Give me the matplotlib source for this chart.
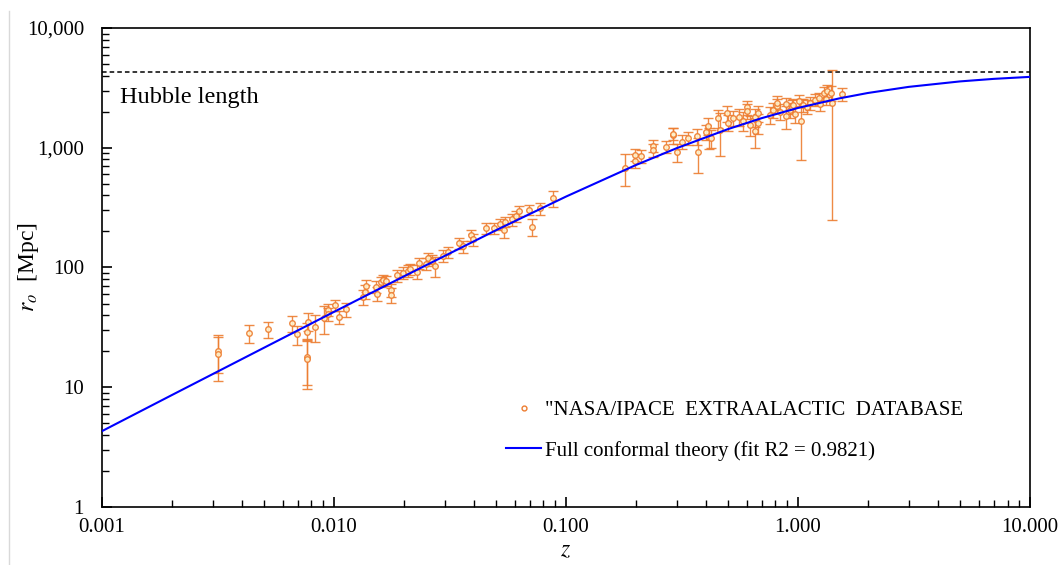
import numpy as np
import matplotlib
matplotlib.use('Agg')
import matplotlib.pyplot as plt
from matplotlib.ticker import FixedLocator, LogLocator, NullFormatter
from matplotlib.lines import Line2D

plt.rcParams['font.family'] = ['Liberation Serif', 'DejaVu Serif']
plt.rcParams['mathtext.fontset'] = 'stix'

# galaxy data: redshift, distance [Mpc], error [Mpc]
z_data = [0.00317, 0.00317, 0.00429, 0.00518, 0.00659, 0.00693, 0.00762, 0.00770,
          0.00762, 0.00762, 0.00830, 0.00906, 0.00945, 0.00945, 0.01013, 0.01054, 0.01127,
          0.0133, 0.0136, 0.01374, 0.01517, 0.0153, 0.0159, 0.0163, 0.01675, 0.0176, 0.0176,
          0.01863, 0.0199, 0.0208, 0.0213, 0.0227, 0.0233, 0.0249, 0.0255, 0.0264, 0.0273,
          0.0294, 0.0311, 0.0347, 0.0360, 0.0388, 0.0398, 0.0452, 0.0489, 0.0520, 0.0541,
          0.0545, 0.0583, 0.0607, 0.0625, 0.0693, 0.0711, 0.0773, 0.0877,
          0.1796, 0.1984, 0.1984, 0.210, 0.2378, 0.2378, 0.270, 0.2884, 0.2884, 0.300,
          0.3153, 0.3366, 0.368, 0.372, 0.4013, 0.4107, 0.413, 0.422, 0.454, 0.46, 0.496,
          0.500, 0.523, 0.559, 0.577, 0.601, 0.601, 0.621, 0.653, 0.653, 0.675, 0.675,
          0.757, 0.783, 0.809, 0.815, 0.836, 0.888, 0.888, 0.924, 0.94, 0.95, 0.971,
          1.013, 1.028, 1.054, 1.089, 1.127, 1.184, 1.236, 1.245, 1.294, 1.321, 1.339,
          1.383, 1.397, 1.543]
r_data = [20.2, 18.8, 28.2, 30.5, 34.2, 27.7, 29.1, 35.3,
          18.0, 17.1, 32.0, 37.6, 44.2, 40.9, 48.3, 38.6, 44.8,
          57.0, 62.8, 70.5, 69.2, 60.1, 76.1, 78.6, 77.5, 64.9, 58.9,
          86.1, 90.6, 94, 97, 92, 109, 107, 119, 114, 103,
          125, 134, 160, 150, 186, 172, 212, 212, 230, 206,
          241, 252, 269, 297, 302, 219, 312, 377,
          681, 869, 780, 853, 1040, 958, 1021, 1271, 1303, 917,
          1124, 1213, 1247, 917, 1362, 1521, 1223, 1200, 1762, 1400, 1940,
          1619, 1762, 1816, 1682, 2177, 2039, 1546, 1388, 1795, 1598, 1940,
          1888, 2066, 2233, 2380, 2001, 1842, 2317, 2066, 2197, 2278, 1916,
          2475, 1675, 2278, 2197, 2351, 2512, 2588, 2317, 2851, 2555, 2987,
          2851, 2351, 2816]
r_err = [7, 7.5, 5, 4.5, 5, 5, 5, 6,
         7.5, 7.5, 8, 10, 5, 5, 5, 5, 6,
         8, 8, 8, 8, 8, 8, 8, 8, 8, 8,
         10, 10, 10, 10, 12, 12, 12, 12, 12, 20,
         14, 15, 18, 18, 20, 20, 22, 22, 25, 30,
         25, 28, 28, 30, 30, 35, 35, 55,
         200, 100, 100, 100, 120, 120, 120, 200, 150, 150,
         150, 150, 200, 300, 200, 250, 250, 200, 300, 550, 300,
         250, 250, 300, 300, 300, 300, 300, 400, 300, 300, 300,
         300, 300, 300, 300, 300, 400, 300, 300, 300, 300, 300,
         300, 880, 300, 300, 300, 300, 300, 300, 350, 300, 350,
         400, 2100, 350]

# full conformal theory curve
z_fit = [0.001, 0.002, 0.005, 0.01, 0.02, 0.05, 0.1, 0.2, 0.3, 0.5, 0.7, 1, 1.5, 2, 3, 5, 7, 10]
r_fit = [4.3, 8.6, 21.4, 42.6, 84.3, 205, 391, 717, 992, 1433, 1771, 2150, 2580, 2867,
         3225, 3583, 3763, 3909]

hubble = 4300
orange = '#ED7D31'

fig = plt.figure(figsize=(10.59, 5.65), dpi=100)
ax = fig.add_axes([0.0963, 0.1027, 0.8763, 0.8477])

ax.errorbar(z_data, r_data, yerr=r_err, fmt='o', ms=4, mfc='#FFF2CC', mec=orange, mew=1,
            ecolor=orange, elinewidth=1, capsize=3.5, capthick=1, alpha=0.9, zorder=3)
ax.plot(z_fit, r_fit, color='#0000FF', lw=1.5, zorder=4)
ax.axhline(hubble, color='black', ls=(0, (3, 2)), lw=1.1, zorder=2)
ax.text(0.019, 0.855, 'Hubble length', transform=ax.transAxes, fontsize=17.5, va='center', ha='left')

ax.set_xscale('log')
ax.set_yscale('log')
ax.set_xlim(0.001, 10)
ax.set_ylim(1, 10000)

ax.xaxis.set_major_locator(FixedLocator([0.001, 0.01, 0.1, 1, 10]))
ax.set_xticklabels(['0.001', '0.010', '0.100', '1.000', '10.000'])
ax.xaxis.set_minor_locator(LogLocator(base=10, subs=np.arange(2, 10)))
ax.xaxis.set_minor_formatter(NullFormatter())
ax.yaxis.set_major_locator(FixedLocator([1, 10, 100, 1000, 10000]))
ax.set_yticklabels(['1', '10', '100', '1,000', '10,000'])
ax.yaxis.set_minor_locator(LogLocator(base=10, subs=np.arange(2, 10)))
ax.yaxis.set_minor_formatter(NullFormatter())

ax.tick_params(which='both', direction='in', top=False, right=False, labelsize=15)
ax.tick_params(which='major', length=7, width=1.2)
ax.tick_params(which='minor', length=5, width=1)
ax.tick_params(axis='x', pad=8)
ax.tick_params(axis='y', pad=13)
for s in ax.spines.values():
    s.set_linewidth(1.2)

ax.set_xlabel('$z$', fontsize=17, labelpad=2)
ax.set_ylabel('$r_o$  [Mpc]', fontsize=17)
ax.yaxis.set_label_coords(-0.066, 0.5)

handles = [Line2D([], [], ls='none', marker='o', ms=3.5, mfc='white', mec=orange, mew=1),
           Line2D([], [], color='#0000FF', lw=1.5)]
labels = ['"NASA/IPACE  EXTRAALACTIC  DATABASE', 'Full conformal theory (fit R2 = 0.9821)']
ax.legend(handles, labels, loc='upper left', bbox_to_anchor=(0.415, 0.262), frameon=False,
          fontsize=15, handlelength=1.7, handletextpad=0.2, labelspacing=1.0)

fig.add_artist(Line2D([0.0085, 0.0085], [0.0, 0.98], color='#d9d9d9', lw=1))

fig.savefig('out.png', dpi=100)
